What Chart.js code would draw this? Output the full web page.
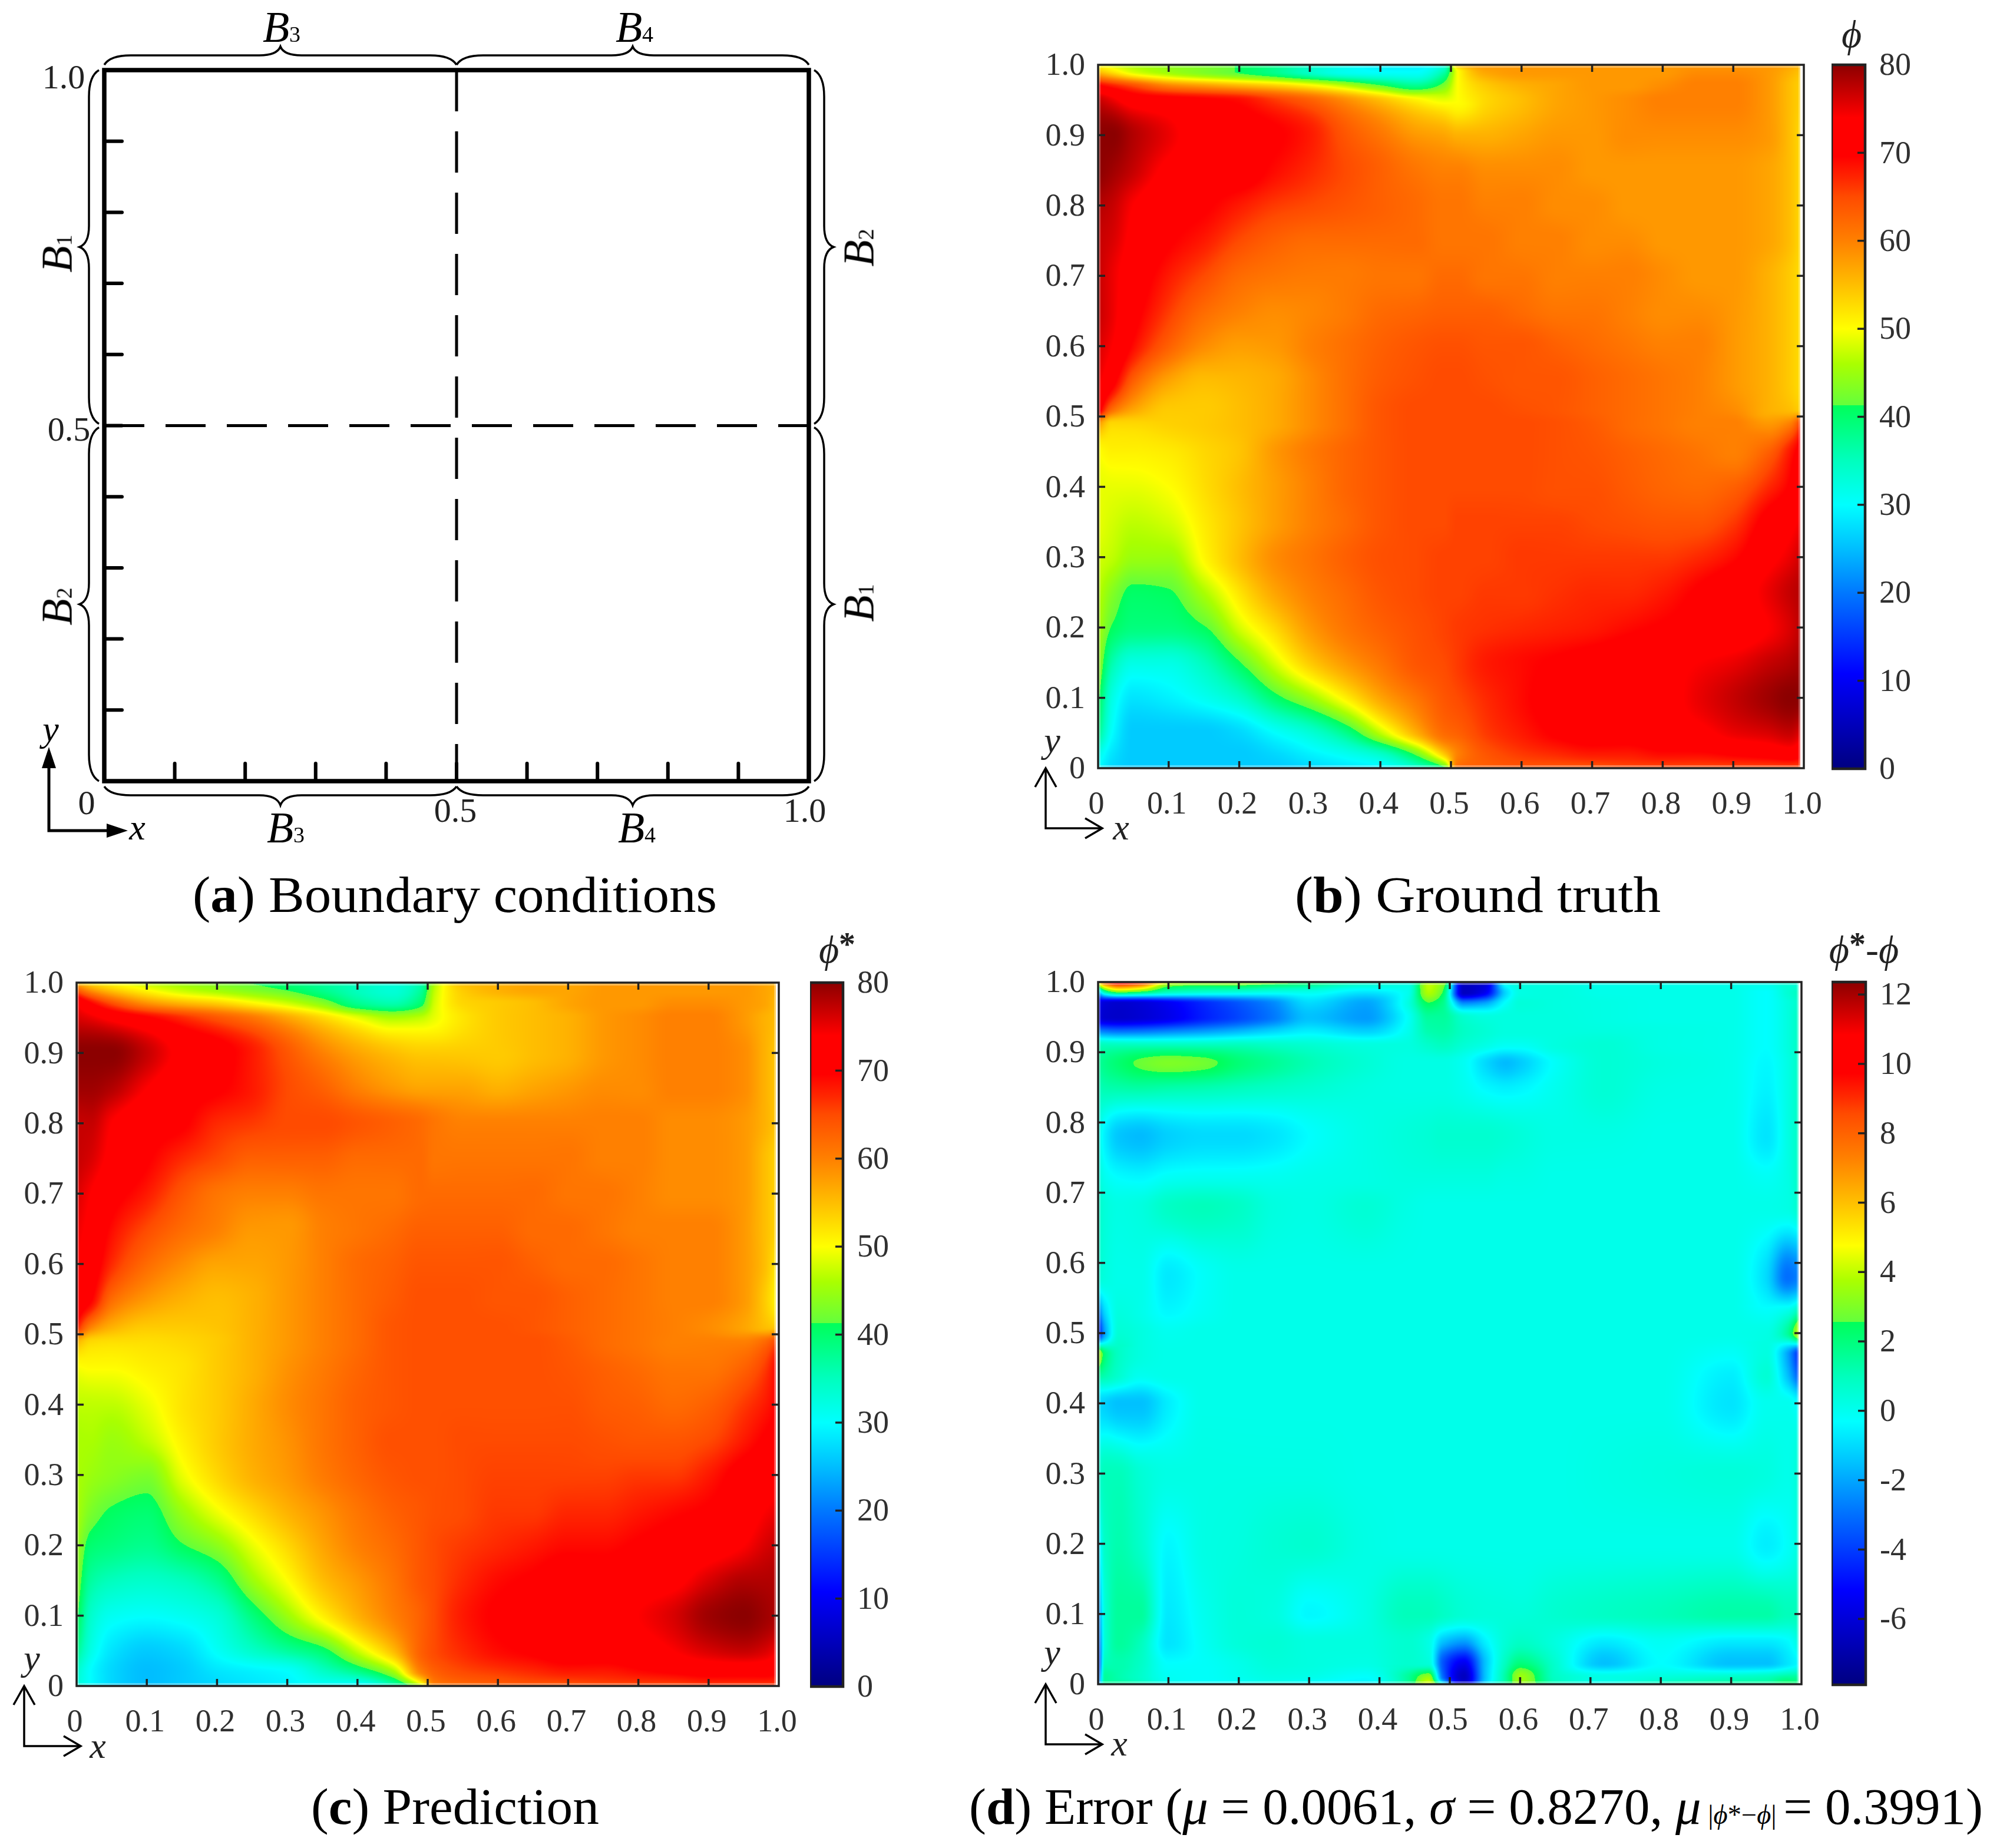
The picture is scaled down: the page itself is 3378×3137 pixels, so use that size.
<!DOCTYPE html>
<html><head><meta charset="utf-8">
<style>
html,body{margin:0;padding:0;background:#fff}
#page{position:relative;width:3378px;height:3137px;overflow:hidden;background:#fff;font-family:"Liberation Serif",serif}
canvas{position:absolute}
.t{position:absolute;white-space:nowrap;color:#000;font-family:"Liberation Serif",serif}
</style>
<script src="https://cdn.jsdelivr.net/npm/chart.js@4/dist/chart.umd.min.js"></script>
</head><body><div id="page"></div>
<script>
const axisTicks=[0,.1,.2,.3,.4,.5,.6,.7,.8,.9,1];
const axisTickLabels=['0','0.1','0.2','0.3','0.4','0.5','0.6','0.7','0.8','0.9','1.0'];
const phiBarTicks=[0,10,20,30,40,50,60,70,80];
const errBarTicks=[-6,-4,-2,0,2,4,6,8,10,12];
const phiRange=[0,80];
const errRange=[-7.9,12.36];
const dividerX=[[.5,1],[.5,0]];
const dividerY=[[0,.5],[1,.5]];

const phiXs=[0,.02,.05,.1,.15,.2,.25,.3,.35,.4,.45,.49,.51,.55,.6,.65,.7,.75,.8,.85,.9,.95,.98,1];
const phiYs=[1,.99,.97,.95,.9,.85,.8,.75,.7,.65,.6,.55,.51,.49,.45,.4,.35,.3,.25,.2,.15,.1,.05,.02,0];

const truthRows=[
[50,48,46,44,43,41,38,34,31,29,29,32,55,58,58,58,58,58,58,58,58,58,57,55],
[55,52,48,45,43,41,38,34,31,30,30,36,50,57,58,58,58,58,58,59,59,58,56,54],
[70,68,65,60,58,56,54,51,47,42,38,43,50,54,56,57,58,58,59,60,60,58,55,53],
[77,75,72,71,70,69,66,63,59,55,51,49,50,53,55,57,58,59,60,60,60,58,55,53],
[80,80,78,75,72,71,70,68,64,61,58,57,56,56,57,58,58,59,59,59,59,58,55,52],
[80,79,77,73,71,71,69,67,65,63,61,60,60,59,59,59,58,58,58,58,58,57,55,52],
[78,77,74,71,70,68,66,65,64,63,62,61,61,60,60,59,59,58,58,58,58,57,55,52],
[77,76,73,70,68,65,63,62,62,62,62,61,61,61,60,60,59,59,58,58,58,57,55,52],
[77,75,72,68,65,62,61,60.5,60.5,61,61,62,62,61,61,60,60,60,59,58,58,56,54,52],
[77,75,71,66,62,60,59,59.5,60.5,62,62.5,63,63,63,62,61,61,60,59,59,58,56,54,52],
[76,74,69,63,59,57.5,58,60,61.5,63,64,64.5,64.5,64,64,63,62,61,60,60,58,56,54,52],
[75,71,63,57,55,55.5,56.5,59,61.5,63.5,64.5,65,65,64.5,64,64,63,62,61,60,58,56,54,52],
[72,62,57,54,54,55,56.5,59,61.5,64,65,65,65,65,64.5,64,63,62,61,60,59,56,55,53],
[58,53,53,53.5,54,55,56.5,59,61.5,64,65,65,65,65,65,64.5,63.5,62,61,60,60,58,60,68],
[50,51,51,51.5,53,54.5,58,60.5,62.5,64,65,65,65,65,65,64.5,64,63,62,61,60,63,68,72],
[49,49,49,50,52.5,55,57.5,60,62.5,64,65,65,65,65,65,64.5,64.5,63.5,62.5,62,63,67,70,74],
[49,48,47,48,51.5,54.5,57.5,60,62,64,65,65,65.5,65.5,65.5,65.5,65,64.5,64,64,66,71,73,75],
[48,47,45,45,50.5,55,59,61,63,64.5,65,65.5,65.5,65.5,66,66,66,66,66,67,69,73,75,77],
[47,43.5,40.5,41,46,52,57,60,62,64,65,65.5,65.5,66,66,66.5,67,67,68,70,72,75,77,78],
[46,41,39,39,41,48,53,58,61,63,64.5,65.5,66,66.5,67,67.5,68,69,70,71,72,74,76,78],
[45,36,32,32,35,41,48,54,58,61,64,65,66,68,69,70,71,72,73,74,75,77,78,79],
[42,32,28,29,31,34,40,45,51,57,61,64,65,67,69,71,72,73,73,75,77,79,80,80],
[38,30,26,26,26,27,30,33,38,47,56,62,63,66,68,70,71,71,72,73,75,76,77,75],
[32,28,26,26,26,26,27,29,31,34,42,54,60,64,66,67,68,68,69,69,70,71,72,70],
[30,27,26,26,26,26,26,27,28,29,33,40,62,63,64,64,64,65,65,65,65,65,65,65]];

const predictionRows=[
[55,52,50,47,45,43,41,39,37,35,33,36,46,55,56,57,57,58,58,58,58,58,57,56],
[63,58,54,50,47,45,43,41,38,35,33,37,47,54,56,57,57,58,58,58,58,58,57,56],
[74,70,65,59,56,54,51,48,44,38,36,40,48,53,54,55,57,58,58,59,59,58,57,55],
[76,75,73,70,67,64,61,57,53,49,46,47,49,52,54,55,56,58,59,60,60,58,56,55],
[80,80,80,77,73,71,68,64,60,57,55,54,54,54,54,55,56,58,59,60,60,59,56,54],
[79,79,78,74,71,70,68,65,63,60,58,57,57,57,56,57,58,59,59,60,60,59,56,54],
[77,77,74,71,70,67,66,65,65,64,63,62,61,60,60,60,60,60,60,59,59,58,56,54],
[77,76,73,70,67,65,63,63,63,62,62,62,61,61,61,61,61,60,60,59,59,58,55,53],
[76,74,71,68,64,61,60,60,61,61,61,62,62,62,62,62,61,61,60,59,59,58,55,53],
[75,73,69,65,62,60,58,58,60,61,62,63,63,63,63,62,62,61,60,60,60,58,55,53],
[74,72,67,62,59,57,57,58,60,62,63,64,64,64,64,63,62,62,61,60,60,58,55,51],
[73,70,62,58,56,55,56,58,60,62,63.5,64.5,64.5,64.5,64,64,63,62,61,60,60,58,54,50],
[68,60,56,54,54,54.5,56,58,60,62,64,64.5,64.5,64.5,64.5,64,63,62,61,60,59,57,55,54],
[56,53,52.5,52.5,53,54,56,58,60,62,64,64.5,64.5,64.5,64.5,64.5,63.5,62,61,60,60,60,62,66],
[49.5,50,50,51,52,54,56,58.5,60.5,62.5,64,64.5,64.5,64.5,64.5,64.5,64,63,62,61,61,63,66,70],
[47,47,47,49,52,54,56.5,59,61,63,64,64.5,64.5,64.5,64.5,64.5,64.5,63.5,63,62,63,66,68,70],
[46,46,45,47,51,54,56.5,58.5,61,63,64.5,64.5,64.5,65,65,65,65,64.5,64,64,65,68,70,71],
[46,45,44,43,49,53,56,58,60.5,62.5,64,64.5,64.5,65,65.5,65.5,65.5,65.5,66,66,68,71,72,73],
[46,43,41,40,45,49.5,53,56,58.5,61,63,64,64.5,65,66,66,67,67,68,69,70,72,74,75],
[45,40,39,38,41,44,49,53,57,60,62,64,65,66,67,68,69,69,70,71,72,74,76,77],
[44,37,35,34,35,38,45,50,55,58,61,64,65,67,69,70,71,71,72,73,76,78,78,78],
[42,34,31,30.2,31,33,39,45,51,56,60,63,65,68,70,71,71,72,74,76,79,80,79,78],
[38,32,28,26,27,30.5,34,37,40,47.5,55,63,65,67,69,70,71,71,72,74,76,77,76,74],
[34,30,27,25,26,28,29,30,34,38,45,60,63,65,66,67,68,68,69,70,71,71,71,70],
[33,30,27,25,26,27,28,29,30,29,35,47,60,62,63,64,64,65,65,65,66,66,66,66]];

const errXs=[0,.01,.03,.06,.1,.15,.2,.25,.3,.38,.44,.47,.49,.52,.55,.58,.6,.65,.72,.8,.9,.95,.98,1];
const errYs=[1,.995,.985,.97,.95,.93,.91,.885,.85,.78,.72,.68,.58,.53,.5,.47,.44,.4,.3,.2,.1,.06,.03,.01,0];
const errRows=[
[5,9,11,10,5,4,4,3.5,2.5,.8,.3,3.5,3.5,-7,-6.5,0,.3,.3,.1,.1,.1,0,.5,.5],
[3,6,8,7,3,2.5,2.5,2,1.5,.4,.2,4,3,-6.5,-6,-.3,.3,.3,.1,.1,.1,0,.5,.5],
[-2,1,2.5,2,.8,.4,.2,0,0,-.8,0,3.8,2.5,-6.5,-5.5,-1,.2,.3,.1,.1,.1,-.3,.5,1],
[-5.5,-6,-6.2,-6,-5.4,-4.4,-3.5,-2.5,-1,-2,.2,2.5,1.8,-2.5,-2,-.2,.4,.3,.2,.1,.1,-.3,.3,.8],
[-5.8,-6.2,-6.3,-6.1,-5.6,-4.6,-3.8,-2.8,-1.5,-2.2,-.2,1.5,1.5,.6,.3,.3,.3,.3,.2,.1,.1,-.3,.3,1],
[-2.5,-2.8,-3,-2.9,-2.6,-2.2,-1.7,-1.1,-.6,-1.2,0,1.2,1.3,.8,.5,.3,.3,.3,.3,.2,.1,-.3,.3,1],
[1,1,1,1,1,1,1,.8,.6,.3,.3,.7,.9,.5,.2,-.1,-.1,.3,.5,.2,.1,-.3,.3,1],
[1.5,1.8,2.2,2.7,3,2.8,2.1,1.6,1.1,.5,.2,.2,.2,-.1,-1,-1.6,-1.3,-.2,.5,.3,.1,-.4,.2,1],
[1,1.2,1.3,1.4,1.3,1.2,1,.8,.6,.3,.2,.2,.2,0,-.4,-.6,-.5,0,.5,.2,.1,-.5,.2,1],
[.3,-.6,-1.4,-1.6,-1.2,-1,-1,-.8,-.3,.2,.4,.5,.6,.6,.6,.5,.4,.2,.2,.1,.1,-.8,.2,1],
[.5,0,-.3,-.4,-.1,0,0,0,.1,.2,.3,.3,.3,.3,.3,.2,.2,.1,.1,.1,.1,-.1,.2,1],
[.8,.4,.2,.3,.8,1,.8,.3,.2,.5,.2,.1,.1,.1,.1,.1,.1,.1,.1,.1,.1,.1,.2,.8],
[.5,.3,.1,.1,-.7,-.2,.1,.1,.1,.1,.1,.1,.1,.1,.1,.1,.1,.1,.1,.1,.1,-1,-3,-2.5],
[-3,-1,.3,.1,-.4,-.1,.1,.1,.1,.1,.1,.1,.1,.1,.1,.1,.1,.1,.1,.1,.1,-.2,.2,1.5],
[-5,-2,.5,.3,0,.1,.1,.1,.1,.1,.1,.1,.1,.1,.1,.1,.1,.1,.1,.1,.1,.2,1.5,5],
[4,2,.8,.3,.1,.1,.1,.1,.1,.1,.1,.1,.1,.1,.1,.1,.1,.1,.1,.1,-.2,.3,-2,-5],
[1.5,1.2,.6,0,.1,.1,.1,.1,.1,.1,.1,.1,.1,.1,.1,.1,.1,.1,.1,.1,-.6,.5,-1.5,-4],
[-1,-1.2,-1.5,-1.5,-.6,.1,.1,.1,.1,.1,.1,.1,.1,.1,.1,.1,.1,.1,.1,.1,-.8,0,0,-.5],
[.6,1,1,.5,.2,.2,.2,.2,.2,.1,.1,.1,.1,.1,.1,.1,.1,.1,.2,.3,.4,.3,.1,.6],
[-1,.8,1.2,.7,-.4,.2,.3,.5,.6,.2,.1,.1,.1,.1,.1,.1,.1,.1,.1,.1,.1,-.6,-.2,.5],
[-3,.5,1.5,1.5,-.7,0,.4,.3,-.4,.2,1,1,.8,.5,.4,.4,.4,.6,.8,1,1.3,1.3,1,1],
[-4,.5,1.5,1,-.8,-.1,.4,.5,.3,.3,.6,.2,-1.5,-2.2,-.6,.5,.8,.3,-.7,-.1,-.7,-.7,-.4,.5],
[-5,1,1.2,.8,-.3,-.2,.1,.4,.3,.2,.6,.4,-3.5,-5.5,-1.5,1,2,.6,-1.5,-.3,-1.5,-1.5,-.8,-.2],
[-4,1.5,1.2,.7,-.1,-.2,0,.2,.1,-.3,1.5,3.5,-3,-6.5,-1.5,1.5,3.5,.8,.2,.4,.8,1,1.5,1.5],
[-3,1.5,1.5,1,0,-.3,-.3,0,-.5,-.5,1.5,4.5,0,-6,-1,1.5,3.5,1,0,1,1.5,1.5,2.5,2]];

/* colour map: fraction of range, r, g, b */
const cmap=[[0,0,0,128],[.135,0,0,255],[.25,0,120,255],[.3125,0,190,255],[.375,0,255,255],[.4375,0,255,190],[.5,0,255,110],[.5165,0,255,90],
[.5165,100,255,60],[.575,170,255,0],[.625,255,255,0],[.6875,255,190,0],[.75,255,128,0],[.8125,255,75,0],[.8375,255,40,0],[.87,255,0,0],[.925,255,0,0],[1,140,0,0]];
const LUT=(()=>{const n=2048,a=new Uint8Array(3*(n+1));for(let i=0;i<=n;i++){const t=i/n;let k=0;while(k<cmap.length-2&&t>=cmap[k+1][0])k++;
 const A=cmap[k],B=cmap[k+1],f=B[0]>A[0]?Math.min(1,(t-A[0])/(B[0]-A[0])):1;for(let c=0;c<3;c++)a[3*i+c]=A[c+1]+(B[c+1]-A[c+1])*f;}return a;})();

function pchip(ts,vs){const n=ts.length,h=[],d=[],m=new Array(n);
 for(let i=0;i<n-1;i++){h[i]=ts[i+1]-ts[i];d[i]=(vs[i+1]-vs[i])/h[i];}
 m[0]=d[0];m[n-1]=d[n-2];
 for(let i=1;i<n-1;i++){if(d[i-1]*d[i]<=0)m[i]=0;else{const w1=2*h[i]+h[i-1],w2=h[i]+2*h[i-1];m[i]=(w1+w2)/(w1/d[i-1]+w2/d[i]);}}
 return m;}
function herm(ts,vs,m,t){let i=0,n=ts.length;if(t<=ts[0])return vs[0];if(t>=ts[n-1])return vs[n-1];
 let lo=0,hi=n-1;while(hi-lo>1){const c=(lo+hi)>>1;if(ts[c]<=t)lo=c;else hi=c;}i=lo;
 const h=ts[i+1]-ts[i],s=(t-ts[i])/h,s2=s*s,s3=s2*s;
 return (2*s3-3*s2+1)*vs[i]+(s3-2*s2+s)*h*m[i]+(-2*s3+3*s2)*vs[i+1]+(s3-s2)*h*m[i+1];}

const heatPlugin={id:'heat',beforeDatasetsDraw(chart){
 const o=chart.options.plugins.heat;if(!o||!o.xs)return;
 const xs=o.xs,ysDesc=o.ys,nx=xs.length,ny=ysDesc.length,pts=chart.data.datasets[0].data;
 const ys=[...ysDesc].reverse();
 const cols=[],colT=[];
 for(let ix=0;ix<nx;ix++){const c=[];for(let iy=ny-1;iy>=0;iy--)c.push(pts[iy*nx+ix].v);cols.push(c);colT.push(pchip(ys,c));}
 const a=chart.chartArea,X=chart.scales.x,Y=chart.scales.y;
 const L=Math.round(a.left),T=Math.round(a.top),w=Math.round(a.right)-L,h=Math.round(a.bottom)-T;
 const img=chart.ctx.createImageData(w,h),D=img.data;
 const xv=new Float64Array(w);for(let p=0;p<w;p++)xv[p]=X.getValueForPixel(L+p+.5);
 const span=o.max-o.min,N=2048;
 for(let py=0;py<h;py++){const yv=Y.getValueForPixel(T+py+.5);const row=new Array(nx);
  for(let ix=0;ix<nx;ix++)row[ix]=herm(ys,cols[ix],colT[ix],yv);
  const rm=pchip(xs,row);
  for(let px=0;px<w;px++){const k=4*(py*w+px);
   if(px>=w-o.inset){D[k]=D[k+1]=D[k+2]=D[k+3]=255;continue;}
   const v=herm(xs,row,rm,xv[px]);let t=Math.round((v-o.min)/span*N);t=t<0?0:t>N?N:t;
   D[k]=LUT[3*t];D[k+1]=LUT[3*t+1];D[k+2]=LUT[3*t+2];D[k+3]=255;}}
 chart.ctx.putImageData(img,L,T);
 /* soft pale rim of the image, as in the reference */
 const c=chart.ctx;c.save();c.fillStyle='rgba(255,255,255,.33)';
 c.fillRect(L,T,4,h);c.fillRect(L,T,w-o.inset,5);c.fillRect(L,T+h-5,w-o.inset,5);c.fillRect(L+w-o.inset-3,T,3,h);c.restore();
}};

const framePlugin={id:'frame',afterDatasetsDraw(chart){
 const o=chart.options.plugins.frame;if(!o||!o.sides)return;const c=chart.ctx,a=chart.chartArea;
 c.save();c.strokeStyle=o.color;c.lineWidth=o.width;c.lineJoin='miter';
 c.strokeRect(a.left,a.top,a.right-a.left,a.bottom-a.top);
 c.lineWidth=o.tickWidth;c.lineCap=o.cap||'butt';
 const X=chart.scales.x,Y=chart.scales.y,len=o.tickLen,s=o.sides;
 if(X&&o.x!==false){for(const t of X.ticks){if(t.value<=X.min||t.value>=X.max)continue;const p=X.getPixelForValue(t.value);
   if(s.includes('b')){c.beginPath();c.moveTo(p,a.bottom);c.lineTo(p,a.bottom-len);c.stroke();}
   if(s.includes('t')){c.beginPath();c.moveTo(p,a.top);c.lineTo(p,a.top+len);c.stroke();}}}
 for(const t of Y.ticks){if(t.value<=Y.min||t.value>=Y.max)continue;const p=Y.getPixelForValue(t.value);
   if(s.includes('l')){c.beginPath();c.moveTo(a.left,p);c.lineTo(a.left+len,p);c.stroke();}
   if(s.includes('r')){c.beginPath();c.moveTo(a.right,p);c.lineTo(a.right-len,p);c.stroke();}}
 c.restore();
}};

function hBrace(c,x1,x2,ye,yf,yt){const m=(x1+x2)/2;c.beginPath();c.moveTo(x1,ye);c.quadraticCurveTo(x1+10,yf,x1+45,yf);c.lineTo(m-36,yf);c.quadraticCurveTo(m-6,yf,m,yt);c.quadraticCurveTo(m+6,yf,m+36,yf);c.lineTo(x2-45,yf);c.quadraticCurveTo(x2-10,yf,x2,ye);c.stroke();}
function vBrace(c,y1,y2,xe,xf,xt){const m=(y1+y2)/2;c.beginPath();c.moveTo(xe,y1);c.quadraticCurveTo(xf,y1+10,xf,y1+45);c.lineTo(xf,m-36);c.quadraticCurveTo(xf,m-6,xt,m);c.quadraticCurveTo(xf,m+6,xf,m+36);c.lineTo(xf,y2-45);c.quadraticCurveTo(xf,y2-10,xe,y2);c.stroke();}
const bracePlugin={id:'braces',afterDraw(chart){
 const o=chart.options.plugins.braces;if(!o||!o.on)return;const c=chart.ctx,X=chart.scales.x,Y=chart.scales.y,
  x0=X.getPixelForValue(0),xm=X.getPixelForValue(.5),x1=X.getPixelForValue(1),y0=Y.getPixelForValue(0),ym=Y.getPixelForValue(.5),y1=Y.getPixelForValue(1);
 c.save();c.strokeStyle='#000';c.lineWidth=3.5;
 hBrace(c,x0,xm,y1-9,y1-25,y1-40);hBrace(c,xm,x1,y1-9,y1-25,y1-40);
 hBrace(c,x0,xm,y0+9,y0+24,y0+41);hBrace(c,xm,x1,y0+9,y0+24,y0+41);
 vBrace(c,y1,ym-3,x0-9,x0-26,x0-42);vBrace(c,ym+3,y0,x0-9,x0-26,x0-42);
 vBrace(c,y1,ym-3,x1+9,x1+26,x1+42);vBrace(c,ym+3,y0,x1+9,x1+26,x1+42);
 c.restore();
}};

const arrowPlugin={id:'arrows',afterDraw(chart){
 const o=chart.options.plugins.arrows;if(!o||o.dx===undefined)return;const c=chart.ctx,a=chart.chartArea,
  ox=a.left+o.dx,oy=a.bottom+o.dy,tx=a.left+o.tipX,ty=a.bottom+o.tipY;
 c.save();c.strokeStyle='#000';c.fillStyle='#000';c.lineWidth=o.width;c.lineCap='butt';
 c.beginPath();c.moveTo(ox,ty+(o.filled?20:0));c.lineTo(ox,oy);c.lineTo(tx-(o.filled?20:0),oy);c.stroke();
 if(o.filled){c.beginPath();c.moveTo(ox,ty);c.lineTo(ox-12,ty+36);c.lineTo(ox+12,ty+36);c.closePath();c.fill();
  c.beginPath();c.moveTo(tx,oy);c.lineTo(tx-36,oy-12);c.lineTo(tx-36,oy+12);c.closePath();c.fill();}
 else{c.beginPath();c.moveTo(ox-18,ty+32);c.lineTo(ox,ty);c.lineTo(ox+18,ty+32);c.stroke();
  c.beginPath();c.moveTo(tx-29,oy-17);c.lineTo(tx,oy);c.lineTo(tx-29,oy+17);c.stroke();}
 c.restore();
}};
Chart.register(heatPlugin,framePlugin,bracePlugin,arrowPlugin);
Chart.defaults.animation=false;

const page=document.getElementById('page');
function mk(x,y,w,h){const c=document.createElement('canvas');c.width=w;c.height=h;c.style.left=x+'px';c.style.top=y+'px';c.style.width=w+'px';c.style.height=h+'px';page.appendChild(c);return c;}
const tickFont={family:'"Liberation Serif"',size:54};
const lbl=(vals,labs)=>function(v){const i=vals.findIndex(t=>Math.abs(t-v)<1e-6);return labs[i];};
const noPad=s=>{s.paddingLeft=s.paddingRight=s.paddingTop=s.paddingBottom=0;};

function panel(f,pad,opt){
 const cx=f.l-pad.l,cy=f.t-pad.t,cw=f.r-f.l+pad.l+pad.r,ch=f.b-f.t+pad.t+pad.b;
 const canvas=mk(cx,cy,cw,ch);
 const scale=(axis,size)=>({type:'linear',min:0,max:1,
  afterBuildTicks:s=>{s.ticks=axisTicks.map(v=>({value:v}));},
  afterFit:s=>{if(axis==='x')s.height=size;else s.width=size;noPad(s);},
  grid:{display:false,drawTicks:false},border:{display:false},
  ticks:{display:opt.labels,font:tickFont,color:'#303030',padding:axis==='x'?opt.padX:opt.padY,labelOffset:axis==='x'?-3:3,maxRotation:0,autoSkip:false,
   callback:lbl(axisTicks,axisTickLabels)}});
 return new Chart(canvas,{type:'scatter',data:{datasets:opt.datasets},options:{responsive:false,maintainAspectRatio:false,
  layout:{padding:{left:0,top:pad.t,right:pad.r,bottom:0}},
  scales:{x:scale('x',pad.b),y:scale('y',pad.l)},
  plugins:{legend:{display:false},tooltip:{enabled:false},heat:opt.heat||false,frame:opt.frame,braces:opt.braces?{on:true}:false,arrows:opt.arrows}}});
}
function gridPts(xs,ys,rows){const out=[];ys.forEach((y,j)=>xs.forEach((x,i)=>out.push({x,y,v:rows[j][i]})));return out;}
const heatFrame={color:'#222',width:3.5,tickWidth:3.5,tickLen:12,sides:'lrtb'};
const openArrow={dx:-89,dy:102,tipX:7,tipY:0,width:3.5};

/* (a) */
panel({l:177,r:1373,t:119,b:1326},{l:177,t:119,r:110,b:125},{labels:false,
 datasets:[
  {label:'x=0.5',data:dividerX.map(p=>({x:p[0],y:p[1]})),showLine:true,pointRadius:0,borderColor:'#000',borderWidth:5,borderDash:[70,34]},
  {label:'y=0.5',data:dividerY.map(p=>({x:p[0],y:p[1]})),showLine:true,pointRadius:0,borderColor:'#000',borderWidth:5,borderDash:[68,36]}],
 frame:{color:'#000',width:7.5,tickWidth:6,tickLen:30,sides:'lb',cap:'round'},braces:true,
 arrows:{dx:-94,dy:84,tipX:40,tipY:-58,width:5,filled:true}});

const heatPad={l:130,t:30,r:46,b:125};
/* (b) */
panel({l:1864,r:3062,t:110,b:1304},heatPad,{labels:true,padX:30,padY:22,
 datasets:[{label:'phi',data:gridPts(phiXs,phiYs,truthRows),pointRadius:0}],
 heat:{xs:phiXs,ys:phiYs,min:phiRange[0],max:phiRange[1],inset:6},frame:heatFrame,arrows:openArrow});
/* (c) */
panel({l:130,r:1322,t:1668,b:2862},heatPad,{labels:true,padX:30,padY:22,
 datasets:[{label:'phi*',data:gridPts(phiXs,phiYs,predictionRows),pointRadius:0}],
 heat:{xs:phiXs,ys:phiYs,min:phiRange[0],max:phiRange[1],inset:5},frame:heatFrame,arrows:openArrow});
/* (d) */
panel({l:1864,r:3058,t:1667,b:2859},heatPad,{labels:true,padX:30,padY:22,
 datasets:[{label:'phi*-phi',data:gridPts(errXs,errYs,errRows),pointRadius:0}],
 heat:{xs:errXs,ys:errYs,min:errRange[0],max:errRange[1],inset:5},frame:heatFrame,arrows:openArrow});

function colorbar(f,range,ticks,labels){
 const pad={t:40,b:40,r:110};
 const canvas=mk(f.l,f.t-pad.t,f.r-f.l+pad.r,f.b-f.t+pad.t+pad.b);
 new Chart(canvas,{type:'bar',data:{labels:['scale'],datasets:[{label:'scale',data:[[range[0],range[1]]],barPercentage:1,categoryPercentage:1,
   backgroundColor(ctx){const ch=ctx.chart,a=ch.chartArea;if(!a)return '#888';
    const g=ch.ctx.createLinearGradient(0,a.bottom,0,a.top);cmap.forEach(s=>g.addColorStop(s[0],`rgb(${s[1]},${s[2]},${s[3]})`));return g;}}]},
  options:{responsive:false,maintainAspectRatio:false,layout:{padding:{left:0,top:pad.t,bottom:pad.b,right:0}},
   scales:{x:{display:false},y:{position:'right',min:range[0],max:range[1],
     afterBuildTicks:s=>{s.ticks=ticks.map(v=>({value:v}));},afterFit:s=>{s.width=pad.r;noPad(s);},
     grid:{display:false,drawTicks:false},border:{display:false},
     ticks:{font:tickFont,color:'#303030',padding:24,labelOffset:3,autoSkip:false,callback:lbl(ticks,labels)}}},
   plugins:{legend:{display:false},tooltip:{enabled:false},heat:false,braces:false,arrows:false,frame:{color:'#222',width:4.5,tickWidth:3.5,tickLen:13,sides:'r',x:false}}}});
}
colorbar({l:3109,r:3166,t:110,b:1305},phiRange,phiBarTicks,phiBarTicks.map(String));
colorbar({l:1375,r:1431,t:1668,b:2863},phiRange,phiBarTicks,phiBarTicks.map(String));
colorbar({l:3109,r:3167,t:1667,b:2860},errRange,errBarTicks,errBarTicks.map(String));

/* text */
function T(x,base,html,size,o={}){const e=document.createElement('div');e.className='t';e.innerHTML=html;
 const lh=Math.round(size*1.2);e.style.fontSize=size+'px';e.style.lineHeight=lh+'px';
 e.style.top=(base-(lh/2+.3375*size))+'px';if(o.color)e.style.color=o.color;
 page.appendChild(e);
 const w=e.getBoundingClientRect().width;
 if(o.width){e.style.left=x+'px';e.style.transformOrigin='0 50%';e.style.transform=`scaleX(${o.width/w})`;}
 else if(o.rot){e.style.left=(x-w/2)+'px';e.style.top=(base-lh/2)+'px';e.style.transformOrigin='50% 50%';e.style.transform='rotate(-90deg)';}
 else e.style.left=(x-w/2)+'px';
 return e;}
const B=n=>`<i>B</i><span style="font-size:38px">${n}</span>`;
const bS=74;
T(478,71,B(3),bS);T(1077,71,B(4),bS);
T(485,1430,B(3),bS);T(1081,1430,B(4),bS);
T(103,424,B(1),bS,{rot:1});T(103,1023,B(2),bS,{rot:1});
T(1464,414,B(2),bS,{rot:1});T(1464,1017,B(1),bS,{rot:1});
const n={color:'#222'},nS=58;
T(108,151,'1.0',nS,n);T(117,749,'0.5',nS,n);T(147,1383,'0',nS,n);T(773,1396,'0.5',nS,n);T(1366,1396,'1.0',nS,n);
const it=s=>`<i>${s}</i>`;
const ax=62;
T(86,1258,it('y'),ax);T(233,1425,it('x'),ax);
T(1786,1277,it('y'),ax,n);T(1903,1425,it('x'),ax,n);
T(54,2835,it('y'),ax,n);T(166,2984,it('x'),ax,n);
T(1786,2825,it('y'),ax,n);T(1900,2980,it('x'),ax,n);
T(3143,80,it('ϕ'),66,n);
T(1421,1634,`<i>ϕ</i><b style="font-size:56px;position:relative;top:-12px">*</b>`,66,n);
T(3164,1634,`<i>ϕ</i><b style="font-size:56px;position:relative;top:-12px">*</b>-<i>ϕ</i>`,66,n);
const cS=86;
T(327,1549,'(<b>a</b>) Boundary conditions',cS,{width:890});
T(2198,1549,'(<b>b</b>) Ground truth',cS,{width:621});
T(528,3097,'(<b>c</b>) Prediction',cS,{width:489});
T(1645,3097,'(<b>d</b>) Error (<i>μ</i> = 0.0061, <i>σ</i> = 0.8270, <i>μ</i><span style="font-size:46px"> |<i>ϕ</i>*−<i>ϕ</i>| </span> = 0.3991)',cS,{width:1721});
</script></body></html>
